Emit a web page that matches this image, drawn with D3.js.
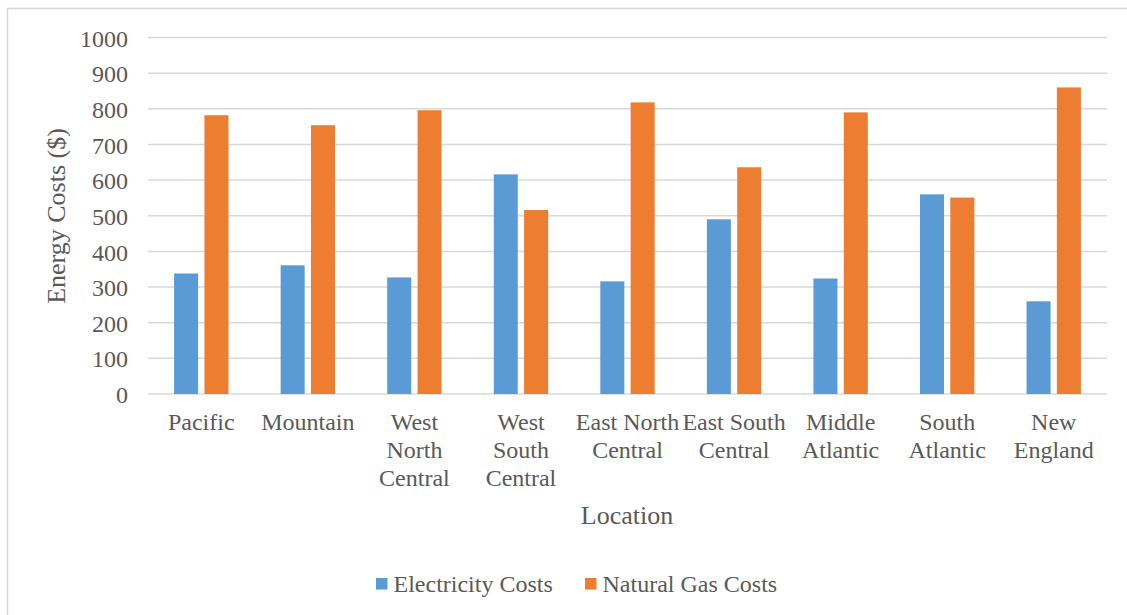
<!DOCTYPE html>
<html>
<head>
<meta charset="utf-8">
<script src="https://cdn.jsdelivr.net/npm/d3@7/dist/d3.min.js"></script>
<style>
  html, body { margin: 0; padding: 0; background: #fff; }
  svg { display: block; }
  text { font-family: "Liberation Serif", "Times New Roman", serif; fill: #595959; }
</style>
</head>
<body>
<svg id="chart" width="1127" height="615"></svg>
<script>
const categories = ["Pacific", "Mountain", "West North Central", "West South Central", "East North Central", "East South Central", "Middle Atlantic", "South Atlantic", "New England"];
const categoryLines = [["Pacific"], ["Mountain"], ["West", "North", "Central"], ["West", "South", "Central"], ["East North", "Central"], ["East South", "Central"], ["Middle", "Atlantic"], ["South", "Atlantic"], ["New", "England"]];
const seriesNames = ["Electricity Costs", "Natural Gas Costs"];
const electricity = [338, 361, 327, 616, 316, 490, 324, 560, 260];
const naturalGas = [782, 754, 796, 516, 818, 636, 790, 551, 860];
const yTicks = [0, 100, 200, 300, 400, 500, 600, 700, 800, 900, 1000];
const colors = ["#5B9BD5", "#ED7D31"];

(function () {
const svg = d3.select("#chart");
const plotLeft = 148, plotRight = 1107, plotTop = 37.5, plotBottom = 394;

// frame
svg.append("path")
  .attr("d", "M7.5,615 L7.5,8.5 L1127,8.5")
  .attr("fill", "none").attr("stroke", "#d9d9d9").attr("stroke-width", 1.5);

const x = d3.scaleBand().domain(categories).range([plotLeft, plotRight]).paddingInner(0).paddingOuter(0);
const x1 = d3.scaleBand().domain(seriesNames).range([0, x.bandwidth()]).paddingInner(0.208).paddingOuter(0.86);
const y = d3.scaleLinear().domain([0, 1000]).range([plotBottom, plotTop]);

// gridlines
svg.append("g").selectAll("line").data(yTicks).join("line")
  .attr("x1", plotLeft).attr("x2", plotRight)
  .attr("y1", d => y(d)).attr("y2", d => y(d))
  .attr("stroke", "#d9d9d9").attr("stroke-width", 1.5);

// y tick labels
svg.append("g").selectAll("text").data(yTicks).join("text")
  .attr("x", 128).attr("y", d => y(d)).attr("dy", "0.38em")
  .attr("text-anchor", "end").attr("font-size", 24)
  .text(d => d);

// bars
const series = [electricity, naturalGas];
const groups = svg.append("g").selectAll("g").data(categories).join("g")
  .attr("transform", d => `translate(${x(d)},0)`);
groups.selectAll("rect").data((d, i) => seriesNames.map((s, k) => ({ s, v: series[k][i], k })))
  .join("rect")
  .attr("x", d => x1(d.s)).attr("width", x1.bandwidth())
  .attr("y", d => y(d.v)).attr("height", d => y(0) - y(d.v))
  .attr("fill", d => colors[d.k]);

// category labels
const lbl = svg.append("g").selectAll("text").data(categories).join("text")
  .attr("text-anchor", "middle").attr("font-size", 24)
  .attr("transform", d => `translate(${x(d) + x.bandwidth() / 2},430)`);
lbl.selectAll("tspan").data((d, i) => categoryLines[i]).join("tspan")
  .attr("x", 0).attr("y", (d, j) => j * 28)
  .text(d => d);

// axis titles
svg.append("text").attr("transform", "translate(65,216) rotate(-90)")
  .attr("text-anchor", "middle").attr("font-size", 26).text("Energy Costs ($)");
svg.append("text").attr("x", 627).attr("y", 524)
  .attr("text-anchor", "middle").attr("font-size", 26).text("Location");

// legend
const legendX = [376, 585];
const leg = svg.append("g").selectAll("g").data(seriesNames).join("g")
  .attr("transform", (d, i) => `translate(${legendX[i]},578)`);
leg.append("rect").attr("width", 11.5).attr("height", 11.5).attr("fill", (d, i) => colors[i]);
leg.append("text").attr("x", 17.5).attr("y", 14).attr("font-size", 24).text(d => d);
})();
</script>
</body>
</html>
